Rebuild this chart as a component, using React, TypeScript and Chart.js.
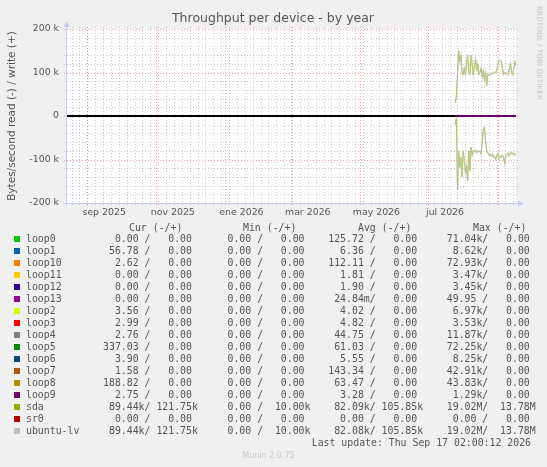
import { useEffect, useRef } from "react"
import { Chart, registerables } from "chart.js"

Chart.register(...registerables)

// x axis is in days: the graph covers 400 days ending Thu Sep 17 2026 02:00
const rangeStart = Date.UTC(2025, 7, 13, 2)
const rangeDays = 400
const dayOf = (y: number, m: number, d: number) => (Date.UTC(y, m, d) - rangeStart) / 86400000

const monthLabels = ["sep 2025", "nov 2025", "ene 2026", "mar 2026", "may 2026", "jul 2026"]
const monthLabelDates: [number, number, number][] = [
  [2025, 8, 16], [2025, 10, 16], [2026, 0, 16], [2026, 2, 16], [2026, 4, 16], [2026, 6, 16],
]
const majorGridDates: [number, number, number][] = [
  [2025, 8, 1], [2025, 10, 1], [2026, 0, 1], [2026, 2, 1], [2026, 4, 1], [2026, 6, 1], [2026, 8, 1],
]
const yTicks = [-200000, -100000, 0, 100000, 200000]

// daily samples, only present from late July 2026 on
const firstDataDay = 346

// bytes/second, in k
const sdaRead = [
  20, 5, 170, 80, 118, 95, 140, 80, 100, 130, 115, 148, 80, 125, 72, 90, 80, 82, 78, 85,
  80, 82, 80, 88, 60, 30, 25, 60, 80, 85, 90, 88, 92, 88, 95, 93, 100, 90, 85, 98,
  92, 95, 90, 95, 110, 90, 88, 85, 92, 85, 83, 88, 85, 90, 88,
]
const sdaWrite = [
  30, 45, 95, 150, 125, 140, 100, 95, 110, 95, 120, 140, 100, 95, 140, 120, 95, 110, 130, 105,
  120, 95, 100, 110, 90, 105, 80, 100, 70, 95, 95, 97, 95, 100, 98, 100, 100, 105, 120, 128,
  128, 125, 110, 95, 100, 100, 97, 95, 105, 120, 100, 95, 110, 125, 115,
]
// ubuntu-lv lives on sda, its lines lie on top of sda's
const ubuntuLvRead = sdaRead
const ubuntuLvWrite = sdaWrite
// the loop devices stay at a few bytes/second, flat on zero
const loop9Read = [
  0, 0, 0, 0, 0, 0, 0, 0, 0, 0, 0, 0, 0, 0, 0, 0, 0, 0, 0, 0,
  0, 0, 0, 0, 0, 0, 0, 0, 0, 0, 0, 0, 0, 0, 0, 0, 0, 0, 0, 0,
  0, 0, 0, 0, 0, 0, 0, 0, 0, 0, 0, 0, 0, 0, 0,
]

// legend table
const devices = [
  "loop0", "loop1", "loop10", "loop11", "loop12", "loop13", "loop2", "loop3", "loop4",
  "loop5", "loop6", "loop7", "loop8", "loop9", "sda", "sr0", "ubuntu-lv",
]
const deviceColors = [
  "#00CC00", "#0066B3", "#FF8000", "#FFCC00", "#330099", "#990099", "#CCFF00", "#FF0000", "#808080",
  "#008F00", "#00487D", "#B35A00", "#B38F00", "#6B006B", "#8FB300", "#B30000", "#BEBEBE",
]
const curRead = ["0.00", "56.78", "2.62", "0.00", "0.00", "0.00", "3.56", "2.99", "2.76", "337.03", "3.90", "1.58", "188.82", "2.75", "89.44k", "0.00", "89.44k"]
const curWrite = ["0.00", "0.00", "0.00", "0.00", "0.00", "0.00", "0.00", "0.00", "0.00", "0.00", "0.00", "0.00", "0.00", "0.00", "121.75k", "0.00", "121.75k"]
const minRead = ["0.00", "0.00", "0.00", "0.00", "0.00", "0.00", "0.00", "0.00", "0.00", "0.00", "0.00", "0.00", "0.00", "0.00", "0.00", "0.00", "0.00"]
const minWrite = ["0.00", "0.00", "0.00", "0.00", "0.00", "0.00", "0.00", "0.00", "0.00", "0.00", "0.00", "0.00", "0.00", "0.00", "10.00k", "0.00", "10.00k"]
const avgRead = ["125.72", "6.36", "112.11", "1.81", "1.90", "24.84m", "4.02", "4.82", "44.75", "61.03", "5.55", "143.34", "63.47", "3.28", "82.09k", "0.00", "82.08k"]
const avgWrite = ["0.00", "0.00", "0.00", "0.00", "0.00", "0.00", "0.00", "0.00", "0.00", "0.00", "0.00", "0.00", "0.00", "0.00", "105.85k", "0.00", "105.85k"]
const maxRead = ["71.04k", "8.62k", "72.93k", "3.47k", "3.45k", "49.95", "6.97k", "3.53k", "11.87k", "72.25k", "8.25k", "42.91k", "43.83k", "1.29k", "19.02M", "0.00", "19.02M"]
const maxWrite = ["0.00", "0.00", "0.00", "0.00", "0.00", "0.00", "0.00", "0.00", "0.00", "0.00", "0.00", "0.00", "0.00", "0.00", "13.78M", "0.00", "13.78M"]

const sans = "'DejaVu Sans', sans-serif"
const mono = "'DejaVu Sans Mono', monospace"
const textColor = "#555555"

// rrdtool style "%6.2lf%s"
function fmt(s: string) {
  const unit = /[kMm]$/.test(s) ? s.slice(-1) : " "
  const num = unit === " " ? s : s.slice(0, -1)
  return num.padStart(6) + unit
}

function legendLine(i: number) {
  const pair = (r: string, w: string) => fmt(r) + "/ " + fmt(w)
  return (
    devices[i].padEnd(13) +
    pair(curRead[i], curWrite[i]) + "   " +
    pair(minRead[i], minWrite[i]) + "   " +
    pair(avgRead[i], avgWrite[i]) + "   " +
    pair(maxRead[i], maxWrite[i])
  )
}

const toPoints = (vals: number[], sign: number) =>
  vals.map((v, i) => ({ x: firstDataDay + i, y: sign * v * 1000 }))

const crisp = (v: number) => Math.round(v) + 0.5

const muninFrame = {
  id: "muninFrame",
  beforeDraw(chart: any) {
    const { ctx, chartArea: a, scales } = chart
    const x = scales.x
    const y = scales.y
    ctx.save()
    ctx.fillStyle = "#F0F0F0"
    ctx.fillRect(0, 0, chart.width, chart.height)
    ctx.fillStyle = "#FFFFFF"
    ctx.fillRect(a.left, a.top, a.right - a.left, a.bottom - a.top)

    const hline = (py: number) => {
      ctx.beginPath()
      ctx.moveTo(a.left - 2, crisp(py))
      ctx.lineTo(a.right + 2, crisp(py))
      ctx.stroke()
    }
    const vline = (px: number) => {
      ctx.beginPath()
      ctx.moveTo(crisp(px), a.top - 2)
      ctx.lineTo(crisp(px), a.bottom + 2)
      ctx.stroke()
    }
    ctx.lineWidth = 1
    ctx.setLineDash([1, 2])
    // minor grid: 20k and weekly (mondays)
    ctx.strokeStyle = "rgba(128,128,128,0.4)"
    for (let v = -180000; v < 200000; v += 20000) if (v % 100000 !== 0) hline(y.getPixelForValue(v))
    for (let d = dayOf(2025, 7, 18); d < rangeDays; d += 7) vline(x.getPixelForValue(d))
    // major grid: 100k and every second month
    ctx.strokeStyle = "rgba(220,60,60,0.45)"
    yTicks.forEach((v) => hline(y.getPixelForValue(v)))
    majorGridDates.forEach(([yy, m, d]) => vline(x.getPixelForValue(dayOf(yy, m, d))))
    ctx.setLineDash([])
    // zero line
    ctx.strokeStyle = "#000000"
    ctx.lineWidth = 2
    ctx.beginPath()
    ctx.moveTo(a.left, Math.round(y.getPixelForValue(0)))
    ctx.lineTo(a.right, Math.round(y.getPixelForValue(0)))
    ctx.stroke()
    ctx.restore()
  },
  afterDraw(chart: any) {
    const { ctx, chartArea: a } = chart
    ctx.save()
    // axes with arrows
    ctx.strokeStyle = "#C8CDF2"
    ctx.fillStyle = "#C8CDF2"
    ctx.lineWidth = 1
    ctx.beginPath()
    ctx.moveTo(crisp(a.left), a.bottom + 3)
    ctx.lineTo(crisp(a.left), a.top - 4)
    ctx.moveTo(a.left - 3, crisp(a.bottom))
    ctx.lineTo(a.right + 4, crisp(a.bottom))
    ctx.stroke()
    ctx.beginPath()
    ctx.moveTo(a.left + 0.5, a.top - 8)
    ctx.lineTo(a.left - 2.5, a.top - 2)
    ctx.lineTo(a.left + 3.5, a.top - 2)
    ctx.closePath()
    ctx.fill()
    ctx.beginPath()
    ctx.moveTo(a.right + 8, a.bottom + 0.5)
    ctx.lineTo(a.right + 2, a.bottom - 2.5)
    ctx.lineTo(a.right + 2, a.bottom + 3.5)
    ctx.closePath()
    ctx.fill()

    // title
    ctx.fillStyle = textColor
    ctx.textAlign = "center"
    ctx.textBaseline = "middle"
    ctx.font = `12.5px ${sans}`
    ctx.fillText("Throughput per device - by year", 273, 19)

    // vertical axis title
    ctx.save()
    ctx.translate(12, 116)
    ctx.rotate(-Math.PI / 2)
    ctx.font = `10.5px ${sans}`
    ctx.fillText("Bytes/second read (-) / write (+)", 0, 0)
    ctx.restore()

    // rrdtool credit
    ctx.save()
    ctx.translate(539, 53)
    ctx.rotate(Math.PI / 2)
    ctx.fillStyle = "#C4C4C4"
    ctx.font = `7.3px ${sans}`
    ctx.fillText("RRDTOOL / TOBI OETIKER", 0, 0)
    ctx.restore()
    ctx.restore()
  },
}

function Legend() {
  const rowTop = (i: number) => 233.3 + 12 * i
  const base = {
    position: "absolute" as const,
    fontFamily: mono,
    fontSize: 9.85,
    lineHeight: "12px",
    whiteSpace: "pre" as const,
    color: textColor,
  }
  const headers = [
    ["Cur (-/+)", 129],
    ["Min (-/+)", 243],
    ["Avg (-/+)", 358],
    ["Max (-/+)", 473],
  ] as const
  return (
    <>
      {headers.map(([t, left]) => (
        <div key={t} style={{ ...base, left, top: 221.7 }}>{t}</div>
      ))}
      {devices.map((name, i) => (
        <div key={name}>
          <div
            style={{
              position: "absolute",
              left: 14,
              top: rowTop(i) + 2.5,
              width: 6,
              height: 6,
              background: deviceColors[i],
            }}
          />
          <div style={{ ...base, left: 26, top: rowTop(i) }}>{legendLine(i)}</div>
        </div>
      ))}
      <div style={{ ...base, right: 16, top: rowTop(devices.length) }}>
        Last update: Thu Sep 17 02:00:12 2026
      </div>
      <div
        style={{
          position: "absolute",
          left: 0,
          width: 537,
          top: 451,
          textAlign: "center",
          fontFamily: sans,
          fontSize: 8,
          lineHeight: "10px",
          color: "#C8C8C8",
        }}
      >
        Munin 2.0.75
      </div>
    </>
  )
}

export default function App() {
  const canvasRef = useRef<HTMLCanvasElement>(null)

  useEffect(() => {
    if (!canvasRef.current) return

    const tickFont = { family: sans, size: 9.4 }
    const line = (label: string, data: { x: number; y: number }[], color: string, width = 1) => ({
      label,
      data,
      borderColor: color,
      borderWidth: width,
      pointRadius: 0,
      tension: 0,
      fill: false,
    })

    const chart = new Chart(canvasRef.current, {
      type: "line",
      data: {
        datasets: [
          line("ubuntu-lv read", toPoints(ubuntuLvRead, -1), "rgba(205,205,205,0.6)", 1.6),
          line("ubuntu-lv write", toPoints(ubuntuLvWrite, 1), "rgba(205,205,205,0.6)", 1.6),
          line("sda read", toPoints(sdaRead, -1), "#8FB300"),
          line("sda write", toPoints(sdaWrite, 1), "#8FB300"),
          line("loop9", toPoints(loop9Read, -1), "#6B006B", 2),
        ],
      },
      options: {
        animation: false,
        responsive: false,
        events: [],
        layout: { padding: { top: 29, right: 31, left: 0, bottom: 0 } },
        plugins: { legend: { display: false }, tooltip: { enabled: false } },
        scales: {
          x: {
            type: "linear",
            min: 0,
            max: rangeDays,
            grid: { display: false, drawTicks: false },
            border: { display: false },
            afterBuildTicks: (s: any) => {
              s.ticks = monthLabelDates.map(([yy, m, d]) => ({ value: dayOf(yy, m, d) }))
            },
            afterFit: (s: any) => {
              s.height = 23
            },
            ticks: {
              autoSkip: false,
              maxRotation: 0,
              padding: 4,
              color: textColor,
              font: tickFont,
              callback: (_v: any, i: number) => monthLabels[i],
            },
          },
          y: {
            type: "linear",
            min: -200000,
            max: 200000,
            grid: { display: false, drawTicks: false },
            border: { display: false },
            afterBuildTicks: (s: any) => {
              s.ticks = yTicks.map((v) => ({ value: v }))
            },
            afterFit: (s: any) => {
              s.width = 66
            },
            ticks: {
              padding: 7,
              color: textColor,
              font: tickFont,
              callback: (v: any) => (v === 0 ? "0" : `${v / 1000} k`),
            },
          },
        },
      },
      plugins: [muninFrame],
    })

    return () => {
      chart.destroy()
    }
  }, [])

  return (
    <div
      style={{
        position: "fixed",
        left: 0,
        top: 0,
        width: 547,
        height: 467,
        background: "#F0F0F0",
        overflow: "hidden",
      }}
    >
      <canvas ref={canvasRef} width={547} height={226} style={{ position: "absolute", left: 0, top: 0 }} />
      <Legend />
    </div>
  )
}
